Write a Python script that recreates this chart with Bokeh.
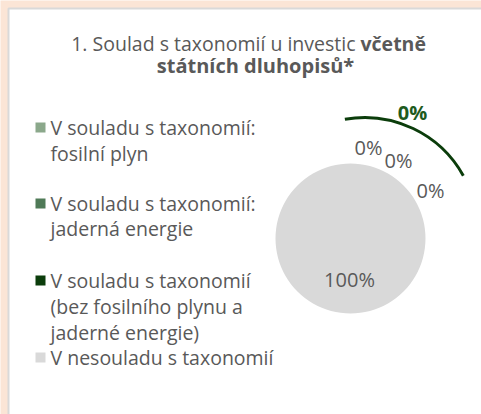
from bokeh.plotting import figure
from bokeh.models import Range1d, ColumnDataSource
from bokeh.core.properties import value
from bokeh.embed import file_html
from bokeh.resources import INLINE
import math

# ---- data ----
categories = [
    "V souladu s taxonomií: fosilní plyn",
    "V souladu s taxonomií: jaderná energie",
    "V souladu s taxonomií (bez fosilního plynu a jaderné energie)",
    "V nesouladu s taxonomií",
]
legend_lines = [
    ["V souladu s taxonomií:", "fosilní plyn"],
    ["V souladu s taxonomií:", "jaderná energie"],
    ["V souladu s taxonomií", "(bez fosilního plynu a", "jaderné energie)"],
    ["V nesouladu s taxonomií"],
]
values = [0, 0, 0, 100]
colors = ["#8BA88B", "#4F7A57", "#0B3D0B", "#D9D9D9"]
title_normal = "1. Soulad s taxonomií u investic"
title_bold_1 = "včetně"
title_bold_2 = "státních dluhopisů*"

# ---- layout (screen pixels, y measured from top) ----
W, H = 481, 414
FONT = "Open Sans"
TXT = "#595959"

def sy(y):
    return H - y

p = figure(width=W, height=H, output_backend="svg", toolbar_location=None,
           x_range=Range1d(0, W), y_range=Range1d(0, H), min_border=0)
p.axis.visible = False
p.grid.visible = False
p.outline_line_color = None
p.background_fill_color = "#FBE5D6"
p.border_fill_color = "#FBE5D6"

# white panel with grey border
p.quad(left=[8], right=[W + 10], bottom=[-10], top=[sy(8)],
       fill_color="white", line_color="#D9D9D9", line_width=2)

# title
p.text(x=[355], y=[sy(43)], text=[title_normal], text_font=value(FONT),
       text_font_size="19.5px", text_color=TXT, text_align="right",
       text_baseline="middle")
p.text(x=[360], y=[sy(43)], text=[title_bold_1], text_font=value(FONT),
       text_font_size="19.5px", text_font_style="bold", text_color=TXT,
       text_align="left", text_baseline="middle")
p.text(x=[255], y=[sy(65)], text=[title_bold_2], text_font=value(FONT),
       text_font_size="20px", text_font_style="bold", text_color=TXT,
       text_align="center", text_baseline="middle")

# pie (starts at 12 o'clock, clockwise)
cx, cy, r = 350, sy(238), 75
starts, ends, cols = [], [], []
cum = 0.0
total = float(sum(values))
for v, c in zip(values, colors):
    span = v / total * 2 * math.pi
    if v > 0:
        s = math.pi / 2 - cum
        e = math.pi / 2 - cum - min(span, 2 * math.pi - 1e-4)
        starts.append(s); ends.append(e); cols.append(c)
    cum += span
src = ColumnDataSource(dict(s=starts, e=ends, c=cols))
p.wedge(x=cx, y=cy, radius=r, start_angle="s", end_angle="e",
        direction="clock", fill_color="c", line_color=None, source=src)

# highlighted (exploded) zero slice outline
p.arc(x=[364], y=[sy(230)], radius=113, start_angle=math.radians(29),
      end_angle=math.radians(100), direction="anticlock",
      line_color=colors[2], line_width=3)

# data labels
label_pos = [(368, 147), (398, 160), (430, 190), (349, 279)]
p.text(x=[a for a, b in label_pos], y=[sy(b) for a, b in label_pos],
       text=[f"{v}%" for v in values], text_font=value(FONT),
       text_font_size="20px", text_color=TXT, text_align="center",
       text_baseline="middle")
p.text(x=[412], y=[sy(112)], text=[f"{values[2]}%"], text_font=value(FONT),
       text_font_size="20px", text_font_style="bold", text_color="#1E5B1E",
       text_align="center", text_baseline="middle")

# legend
entry_y = [[127, 153], [203, 228], [280, 306, 332], [357]]
for lines, c, ys in zip(legend_lines, colors, entry_y):
    p.rect(x=[40], y=[sy(ys[0])], width=10, height=10, fill_color=c, line_color=None)
    p.text(x=[50] * len(lines), y=[sy(y) for y in ys],
           text=lines, text_font=value(FONT), text_font_size="19.5px",
           text_color=TXT, text_align="left", text_baseline="middle")

open("out.html", "w").write(file_html(p, INLINE))
